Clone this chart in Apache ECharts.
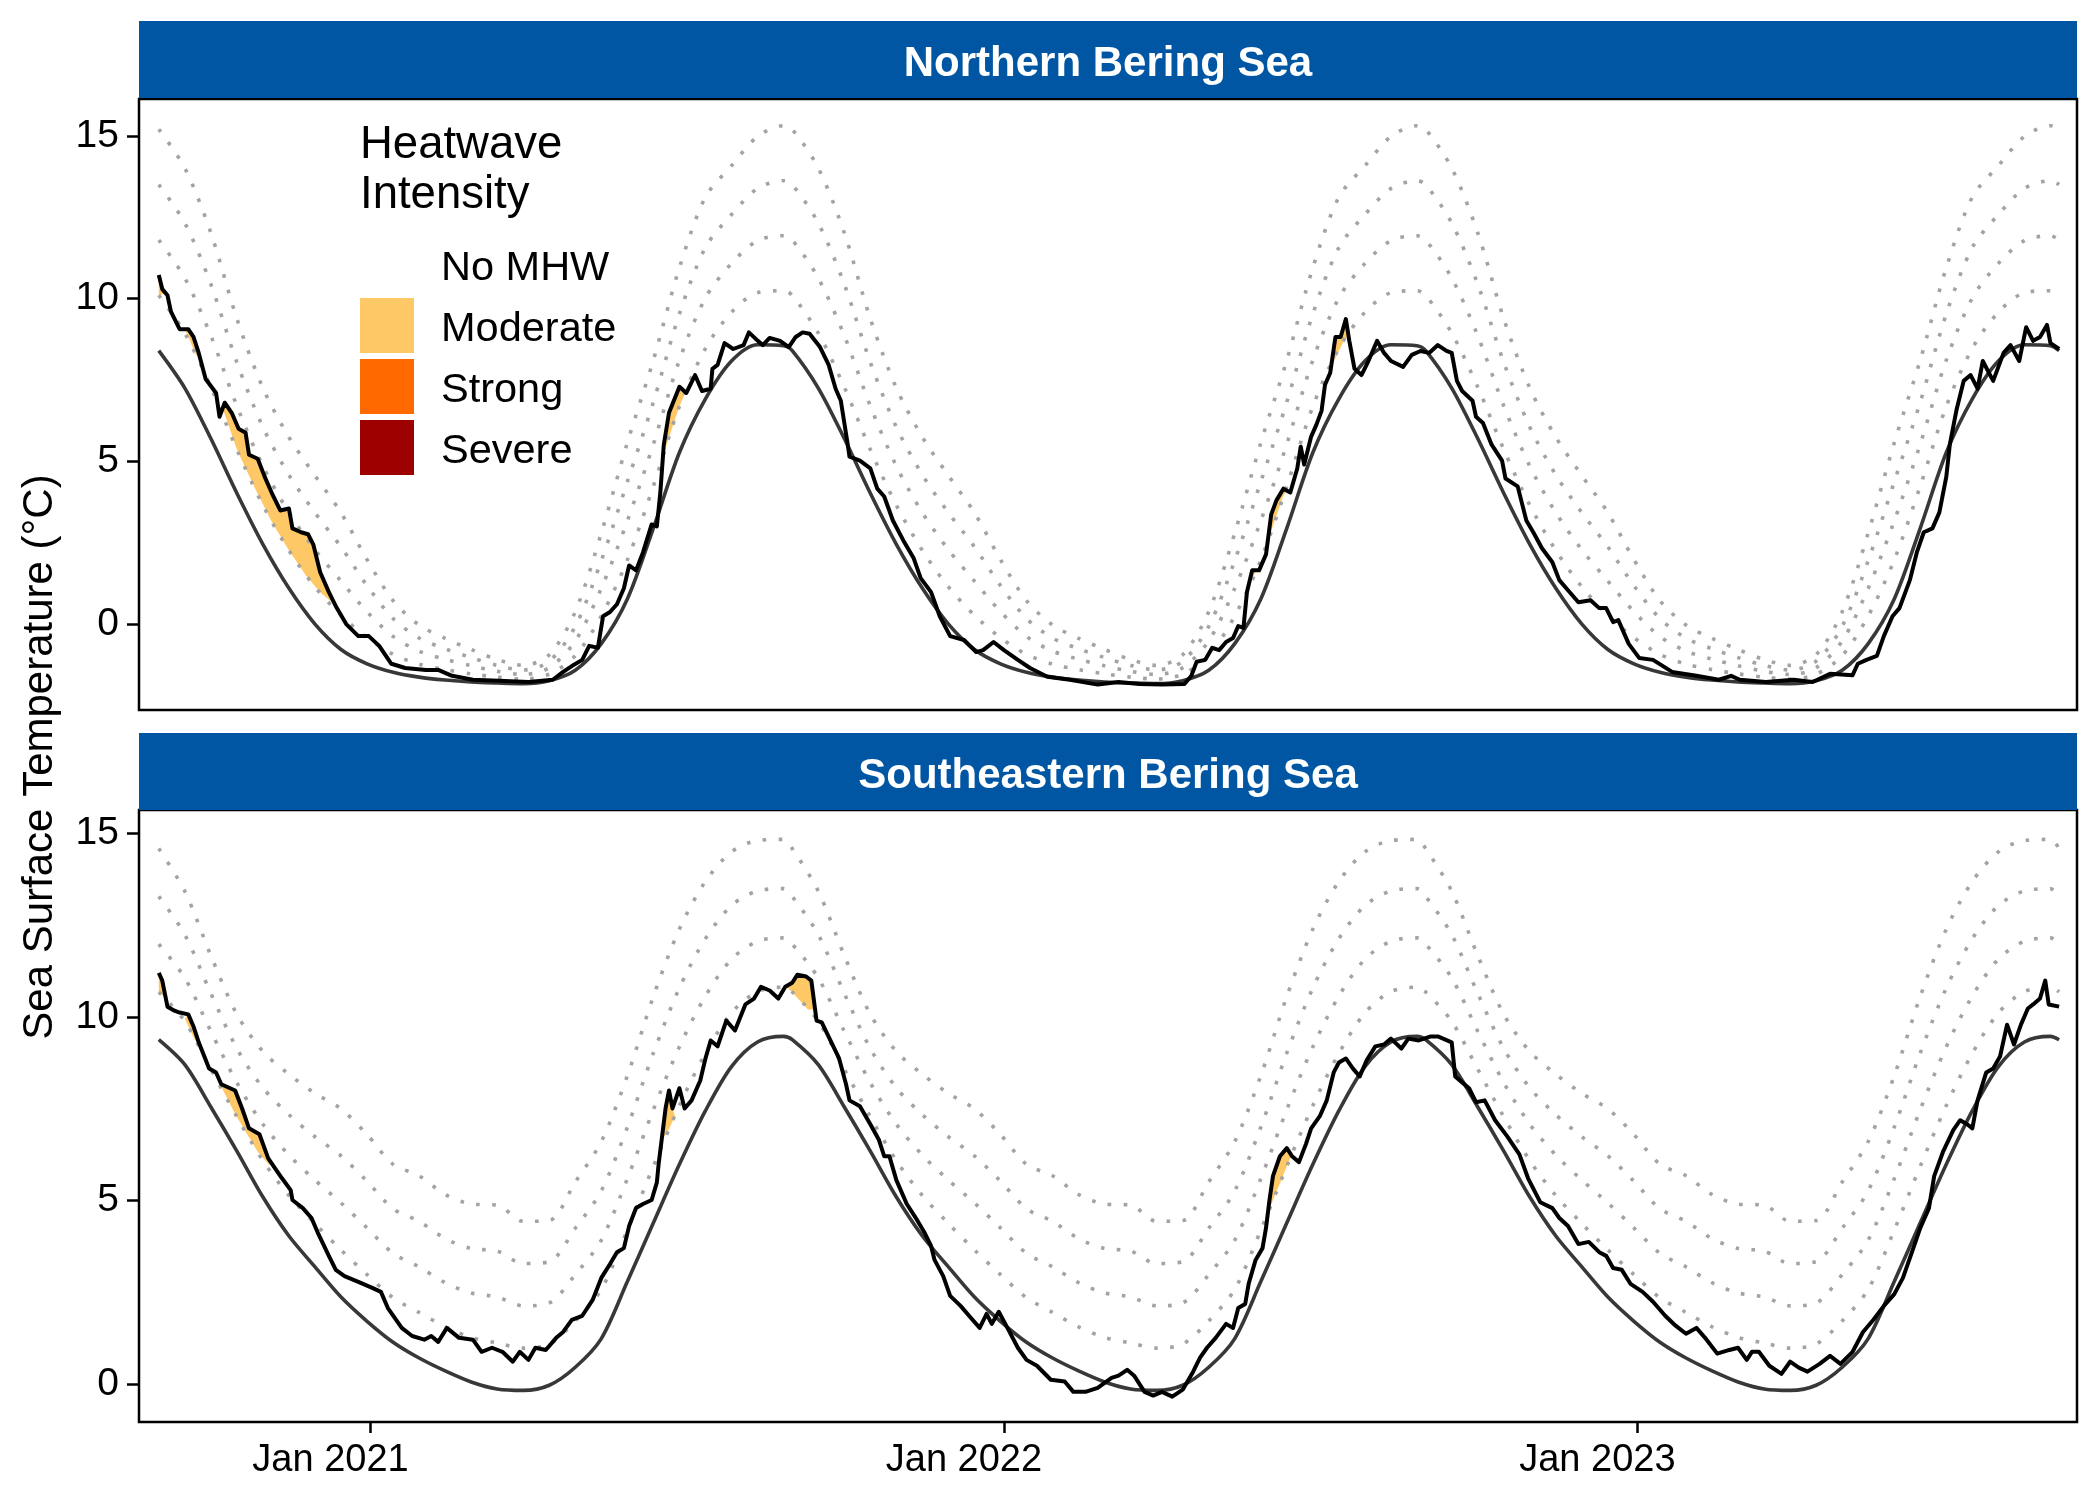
<!DOCTYPE html>
<html>
<head>
<meta charset="utf-8">
<title>Bering Sea marine heatwaves</title>
<script src="https://cdn.jsdelivr.net/npm/echarts@6/dist/echarts.min.js"></script>
<style>
  html, body { margin: 0; padding: 0; background: #fff; }
  #chart { width: 2100px; height: 1500px; }
</style>
</head>
<body>
<div id="chart"></div>
<script>
// all days are counted from 1 Sep 2020
const START = Date.UTC(2020, 8, 1);
const DAY = 86400000;

const panelTitles = ['Northern Bering Sea', 'Southeastern Bering Sea'];
const xTickDates = ['2021-01-01', '2022-01-01', '2023-01-01'];
const xTickLabels = ['Jan 2021', 'Jan 2022', 'Jan 2023'];
const yTicks = [0, 5, 10, 15];
const legendNames = ['No MHW', 'Moderate', 'Strong', 'Severe'];
const legendColors = ['#ffffff', '#ffc866', '#ff6900', '#9e0000'];

// seasonal climatology + threshold multiples, one value every 15 days from 1 Sep (same each year)
const cycleDay = [0, 15, 30, 45, 60, 75, 90, 105, 120, 135, 150, 165, 180, 195, 210, 225, 240, 255, 270, 285, 300, 315, 330, 345, 360];

const nbsClim  = [8.4, 7.25, 5.7, 4.02, 2.45, 1.1, 0.0, -0.78, -1.22, -1.48, -1.63, -1.72, -1.78, -1.81, -1.83, -1.74, -1.42, -0.6, 0.77, 2.95, 5.27, 6.92, 8.08, 8.58, 8.55];
const nbsLine1 = [10.1, 8.94, 7.28, 5.36, 3.65, 2.26, 1.14, 0.27, -0.42, -0.93, -1.23, -1.4, -1.53, -1.63, -1.69, -1.54, -0.97, 0.25, 1.97, 4.24, 6.69, 8.47, 9.58, 10.18, 10.24];
const nbsLine2 = [11.8, 10.63, 8.86, 6.7, 4.85, 3.42, 2.28, 1.32, 0.38, -0.38, -0.83, -1.08, -1.28, -1.45, -1.55, -1.34, -0.52, 1.1, 3.17, 5.53, 8.11, 10.02, 11.08, 11.78, 11.93];
const nbsLine3 = [13.5, 12.32, 10.44, 8.04, 6.05, 4.58, 3.42, 2.37, 1.18, 0.17, -0.43, -0.76, -1.03, -1.27, -1.41, -1.14, -0.07, 1.95, 4.37, 6.82, 9.53, 11.57, 12.58, 13.38, 13.62];
const nbsLine4 = [15.2, 14.01, 12.02, 9.38, 7.25, 5.74, 4.56, 3.42, 1.98, 0.72, -0.03, -0.44, -0.78, -1.09, -1.27, -0.94, 0.38, 2.8, 5.57, 8.11, 10.95, 13.12, 14.08, 14.98, 15.31];

const sebsClim  = [9.38, 8.7, 7.55, 6.35, 5.1, 4.04, 3.2, 2.38, 1.72, 1.15, 0.72, 0.37, 0.07, -0.12, -0.16, -0.02, 0.47, 1.25, 2.8, 4.4, 5.99, 7.45, 8.65, 9.32, 9.47];
const sebsLine1 = [10.68, 9.88, 8.58, 7.28, 6.09, 5.14, 4.38, 3.66, 2.99, 2.36, 1.96, 1.57, 1.28, 1.13, 0.99, 1.1, 1.73, 2.59, 4.2, 5.94, 7.59, 9.01, 10.11, 10.69, 10.81];
const sebsLine2 = [11.98, 11.06, 9.61, 8.21, 7.08, 6.24, 5.56, 4.94, 4.26, 3.57, 3.2, 2.77, 2.49, 2.38, 2.14, 2.22, 2.99, 3.93, 5.6, 7.48, 9.19, 10.57, 11.57, 12.06, 12.15];
const sebsLine3 = [13.28, 12.24, 10.64, 9.14, 8.07, 7.34, 6.74, 6.22, 5.53, 4.78, 4.44, 3.97, 3.7, 3.63, 3.29, 3.34, 4.25, 5.27, 7.0, 9.02, 10.79, 12.13, 13.03, 13.43, 13.49];
const sebsLine4 = [14.58, 13.42, 11.67, 10.07, 9.06, 8.44, 7.92, 7.5, 6.8, 5.99, 5.68, 5.17, 4.91, 4.88, 4.44, 4.46, 5.51, 6.61, 8.4, 10.56, 12.39, 13.69, 14.49, 14.8, 14.83];

// observed sea surface temperature
const nbsDay = [0, 2, 5, 7, 12, 17, 20, 23, 27, 33, 35, 38, 42, 46, 50, 52, 57, 61, 65, 70, 75, 77, 82, 86, 89, 93, 98, 102, 108, 115, 121, 127, 134, 142, 154, 161, 169, 181, 196, 213, 227, 233, 238, 244, 248, 253, 256, 260, 264, 268, 271, 275, 279, 284, 287, 289, 291, 294, 300, 304, 309, 313, 318, 319, 322, 326, 331, 337, 340, 344, 348, 352, 358, 363, 367, 371, 375, 381, 386, 390, 393, 397, 398, 404, 410, 414, 418, 423, 429, 435, 439, 445, 450, 456, 464, 471, 475, 481, 487, 495, 502, 512, 525, 541, 553, 565, 578, 591, 595, 598, 603, 607, 611, 615, 619, 622, 625, 627, 630, 634, 638, 641, 644, 648, 652, 656, 658, 660, 664, 667, 670, 672, 675, 678, 681, 684, 686, 689, 693, 697, 702, 706, 710, 717, 722, 727, 732, 737, 742, 745, 748, 751, 757, 759, 763, 768, 774, 776, 783, 788, 792, 797, 803, 807, 812, 818, 825, 830, 834, 838, 841, 847, 853, 861, 872, 886, 899, 906, 911, 926, 942, 953, 963, 976, 979, 984, 990, 994, 999, 1003, 1009, 1013, 1017, 1022, 1026, 1030, 1032, 1036, 1040, 1044, 1048, 1051, 1057, 1063, 1067, 1072, 1076, 1080, 1084, 1088, 1090, 1095];
const nbsSst = [10.72, 10.29, 10.1, 9.6, 9.06, 9.06, 8.82, 8.33, 7.53, 7.1, 6.37, 6.8, 6.49, 6.0, 5.88, 5.2, 5.08, 4.53, 4.04, 3.49, 3.55, 2.94, 2.82, 2.76, 2.45, 1.59, 0.98, 0.55, 0.0, -0.37, -0.37, -0.67, -1.22, -1.35, -1.41, -1.41, -1.59, -1.71, -1.74, -1.78, -1.71, -1.47, -1.29, -1.1, -0.67, -0.73, 0.24, 0.37, 0.61, 1.1, 1.8, 1.65, 2.2, 3.06, 3.0, 4.04, 5.51, 6.49, 7.29, 7.1, 7.65, 7.16, 7.23, 7.84, 7.96, 8.63, 8.45, 8.57, 8.96, 8.76, 8.57, 8.79, 8.7, 8.51, 8.82, 8.96, 8.92, 8.51, 7.96, 7.23, 6.86, 5.51, 5.14, 5.02, 4.78, 4.16, 3.92, 3.18, 2.57, 2.02, 1.41, 0.98, 0.24, -0.37, -0.49, -0.86, -0.8, -0.55, -0.8, -1.1, -1.35, -1.62, -1.71, -1.86, -1.78, -1.84, -1.86, -1.84, -1.59, -1.16, -1.1, -0.73, -0.8, -0.55, -0.43, -0.06, -0.12, 0.98, 1.65, 1.65, 2.14, 3.37, 3.8, 4.16, 4.04, 4.78, 5.45, 4.9, 5.76, 6.12, 6.55, 7.35, 7.72, 8.82, 8.82, 9.37, 8.7, 7.84, 7.65, 8.08, 8.7, 8.33, 8.08, 7.9, 8.27, 8.39, 8.33, 8.57, 8.39, 8.33, 7.47, 7.16, 6.86, 6.37, 6.18, 5.51, 5.02, 4.47, 4.23, 3.18, 2.82, 2.33, 1.9, 1.35, 1.04, 0.67, 0.73, 0.49, 0.49, 0.06, 0.12, -0.61, -1.04, -1.1, -1.47, -1.59, -1.71, -1.59, -1.71, -1.78, -1.71, -1.78, -1.53, -1.57, -1.22, -1.1, -0.98, -0.37, 0.24, 0.49, 1.35, 2.2, 2.82, 2.94, 3.43, 4.53, 5.51, 6.61, 7.47, 7.65, 7.23, 8.08, 7.47, 8.33, 8.57, 8.08, 9.12, 8.7, 8.82, 9.19, 8.63, 8.45];

const sebsDay = [0, 2, 5, 9, 12, 17, 20, 23, 29, 33, 36, 44, 48, 52, 58, 63, 67, 71, 76, 77, 83, 88, 92, 98, 102, 107, 115, 123, 128, 132, 140, 146, 153, 157, 161, 166, 173, 181, 186, 192, 198, 204, 208, 213, 217, 223, 229, 233, 238, 244, 250, 255, 260, 264, 268, 271, 275, 279, 284, 287, 288, 290, 292, 294, 296, 300, 303, 307, 312, 315, 318, 322, 327, 332, 338, 343, 347, 352, 357, 361, 365, 368, 373, 376, 379, 382, 387, 392, 396, 398, 404, 410, 415, 418, 421, 425, 431, 437, 441, 445, 447, 452, 456, 462, 468, 473, 477, 480, 484, 489, 495, 500, 506, 514, 522, 527, 534, 541, 549, 553, 558, 562, 568, 573, 578, 584, 590, 596, 600, 604, 609, 615, 619, 622, 626, 628, 632, 636, 638, 640, 642, 646, 650, 653, 657, 661, 664, 669, 673, 677, 680, 684, 688, 692, 696, 701, 706, 710, 716, 720, 726, 733, 737, 745, 747, 751, 755, 759, 764, 770, 777, 784, 789, 796, 803, 807, 812, 818, 824, 830, 834, 838, 843, 848, 855, 861, 868, 874, 880, 886, 891, 898, 905, 910, 915, 918, 922, 928, 935, 940, 945, 950, 957, 963, 969, 976, 982, 988, 994, 1000, 1005, 1011, 1015, 1020, 1023, 1028, 1034, 1038, 1042, 1045, 1048, 1053, 1057, 1061, 1065, 1069, 1073, 1077, 1080, 1084, 1087, 1089, 1095];
const sebsSst = [11.2, 10.99, 10.28, 10.17, 10.12, 10.07, 9.74, 9.31, 8.6, 8.49, 8.17, 8.0, 7.51, 6.97, 6.81, 6.16, 5.88, 5.61, 5.29, 5.02, 4.8, 4.53, 4.09, 3.5, 3.12, 2.95, 2.79, 2.63, 2.52, 2.08, 1.54, 1.32, 1.22, 1.32, 1.16, 1.54, 1.27, 1.22, 0.89, 1.0, 0.89, 0.62, 0.89, 0.67, 1.0, 0.94, 1.27, 1.43, 1.76, 1.87, 2.3, 2.9, 3.28, 3.6, 3.71, 4.31, 4.8, 4.91, 5.02, 5.5, 5.99, 6.75, 7.51, 8.0, 7.51, 8.06, 7.51, 7.73, 8.27, 8.87, 9.36, 9.2, 9.9, 9.63, 10.34, 10.5, 10.82, 10.72, 10.5, 10.82, 10.93, 11.15, 11.1, 10.99, 9.9, 9.85, 9.36, 8.87, 8.17, 7.73, 7.57, 7.08, 6.65, 6.21, 6.21, 5.56, 4.91, 4.47, 4.15, 3.77, 3.39, 2.95, 2.41, 2.14, 1.81, 1.54, 1.92, 1.65, 1.98, 1.54, 1.0, 0.67, 0.51, 0.13, 0.08, -0.2, -0.2, -0.09, 0.18, 0.24, 0.4, 0.24, -0.2, -0.3, -0.2, -0.33, -0.14, 0.35, 0.73, 1.0, 1.27, 1.65, 1.54, 2.08, 2.19, 2.74, 3.39, 3.71, 4.26, 5.02, 5.67, 6.21, 6.43, 6.21, 6.05, 6.54, 6.97, 7.3, 7.73, 8.49, 8.76, 8.87, 8.6, 8.38, 8.82, 9.2, 9.25, 9.41, 9.14, 9.41, 9.36, 9.47, 9.47, 9.31, 8.38, 8.22, 8.06, 7.68, 7.73, 7.19, 6.75, 6.26, 5.61, 4.96, 4.8, 4.53, 4.31, 3.82, 3.88, 3.6, 3.5, 3.17, 3.12, 2.74, 2.52, 2.25, 1.87, 1.6, 1.38, 1.54, 1.27, 0.84, 0.94, 1.0, 0.67, 0.89, 0.89, 0.51, 0.29, 0.62, 0.46, 0.35, 0.56, 0.78, 0.56, 0.89, 1.43, 1.76, 2.14, 2.46, 2.9, 3.71, 4.26, 4.8, 5.67, 6.32, 6.92, 7.19, 7.08, 6.97, 7.73, 8.49, 8.6, 8.93, 9.79, 9.25, 9.79, 10.23, 10.34, 10.5, 10.99, 10.34, 10.28];

// moderate heatwave events: days and the threshold under the shaded area
const nbsMhwDay = [[0, 3.5], [15, 18, 21, 24], [37, 45, 55, 65, 75, 85, 93, 101], [292, 296, 300, 303], [628, 632], [639, 644, 648, 650], [676.5, 680, 683, 685.5]];
const nbsMhwLow = [[10.1, 10.15], [9.06, 8.7, 8.3, 8.15], [6.6, 5.36, 4.22, 3.15, 2.26, 1.48, 0.98, 0.62], [5.4, 6.05, 6.69, 7.05], [1.2, 1.6], [2.57, 3.33, 3.94, 4.1], [8.0, 8.4, 8.7, 8.87]];
const sebsMhwDay = [[0, 3, 4.5], [15, 20, 24], [36, 44, 50, 57, 64], [290.5, 294, 297.5], [362, 366, 370, 374, 377.8], [639.3, 642, 646, 650, 652.5]];
const sebsMhwLow = [[10.68, 10.55, 10.4], [9.95, 9.45, 9.15], [8.1, 7.36, 6.88, 6.33, 5.95], [6.7, 6.95, 7.3], [10.81, 10.62, 10.41, 10.2, 10.2], [4.72, 5.01, 5.47, 5.94, 6.22]];

const FONT = 'Liberation Sans, Arial, sans-serif';

function pairs(days, vals) {
  return days.map((d, i) => [d, vals[i]]);
}
// the seasonal arrays are laid out over each of the three years shown
function cycle(vals) {
  const out = [];
  for (let y = 0; y < 3; y++) {
    cycleDay.forEach((d, i) => out.push([y * 365 + d, vals[i]]));
  }
  out.push([1095, vals[0]]);
  return out;
}

function panelSeries(idx, clim, lines, day, sst, evDay, evLow) {
  const list = [];
  list.push({
    name: 'Moderate', type: 'custom', xAxisIndex: idx, yAxisIndex: idx, z: 1,
    itemStyle: { color: legendColors[1] },
    data: evDay.map((d, i) => [d[0], evLow[i][0]]),
    renderItem: function (params, api) {
      const i = params.dataIndex;
      const ed = evDay[i], el = evLow[i];
      const d0 = ed[0], d1 = ed[ed.length - 1];
      const pts = [];
      day.forEach((d, k) => {
        if (d >= d0 && d <= d1) pts.push(api.coord([d, sst[k]]));
      });
      for (let k = ed.length - 1; k >= 0; k--) pts.push(api.coord([ed[k], el[k]]));
      return { type: 'polygon', shape: { points: pts }, style: { fill: legendColors[1] } };
    }
  });
  lines.forEach((vals, k) => {
    list.push({
      name: 'thresh' + (k + 1), type: 'line', xAxisIndex: idx, yAxisIndex: idx, z: 2,
      data: cycle(vals), showSymbol: false, smooth: 0.3, silent: true,
      lineStyle: { color: '#a3a3a3', width: 3.6, type: [3.6, 12.4], cap: 'butt' }
    });
  });
  list.push({
    name: 'clim', type: 'line', xAxisIndex: idx, yAxisIndex: idx, z: 3,
    data: cycle(clim), showSymbol: false, smooth: 0.3, silent: true,
    lineStyle: { color: '#383838', width: 3.6 }
  });
  list.push({
    name: 'sst', type: 'line', xAxisIndex: idx, yAxisIndex: idx, z: 4,
    data: pairs(day, sst), showSymbol: false, silent: true,
    lineStyle: { color: '#000000', width: 4, join: 'round' }
  });
  return list;
}

const grids = [
  { left: 139, top: 99, width: 1938, height: 611 },
  { left: 139, top: 810, width: 1938, height: 612 }
];
const yRanges = [[-2.64, 16.13], [-1.02, 15.63]];
const xMin = -11.4, xMax = 1105.3;
const xTickDays = xTickDates.map(s => Math.round((Date.parse(s + 'T00:00:00Z') - START) / DAY));

const chart = echarts.init(document.getElementById('chart'), null, { renderer: 'canvas' });

const series = [].concat(
  panelSeries(0, nbsClim, [nbsLine1, nbsLine2, nbsLine3, nbsLine4], nbsDay, nbsSst, nbsMhwDay, nbsMhwLow),
  panelSeries(1, sebsClim, [sebsLine1, sebsLine2, sebsLine3, sebsLine4], sebsDay, sebsSst, sebsMhwDay, sebsMhwLow)
);
// legend-only entries
[0, 2, 3].forEach(i => {
  series.push({ name: legendNames[i], type: 'custom', xAxisIndex: 0, yAxisIndex: 0, data: [],
    itemStyle: { color: legendColors[i] }, renderItem: () => null });
});

const option = {
  backgroundColor: '#ffffff',
  animation: false,
  grid: grids.map(g => Object.assign({ show: true, borderColor: '#000', borderWidth: 2.5, backgroundColor: '#fff' }, g)),
  xAxis: grids.map((g, i) => ({
    type: 'value', gridIndex: i, min: xMin, max: xMax,
    axisLine: { show: false, onZero: false },
    splitLine: { show: false },
    axisTick: { show: i === 1, length: 11, lineStyle: { color: '#000', width: 2.5 }, customValues: xTickDays },
    axisLabel: {
      show: i === 1, customValues: xTickDays, margin: 20,
      fontSize: 38, color: '#000', fontFamily: FONT, padding: [0, 80, 0, 0],
      formatter: v => xTickLabels[xTickDays.indexOf(Math.round(v))] || ''
    }
  })),
  yAxis: grids.map((g, i) => ({
    type: 'value', gridIndex: i, min: yRanges[i][0], max: yRanges[i][1],
    axisLine: { show: false, onZero: false },
    splitLine: { show: false },
    axisTick: { show: true, length: 12, lineStyle: { color: '#000', width: 2.5 }, customValues: yTicks },
    axisLabel: { customValues: yTicks, margin: 20, fontSize: 39, color: '#000', fontFamily: FONT }
  })),
  legend: {
    left: 360, top: 237, padding: 0, orient: 'vertical',
    itemWidth: 54, itemHeight: 55, itemGap: 6, icon: 'rect', selectedMode: false,
    data: legendNames.map((n, i) => ({ name: n, itemStyle: { color: legendColors[i] } })),
    formatter: name => '{t|' + name + '}',
    textStyle: {
      fontSize: 41.5, color: '#000', fontFamily: FONT,
      rich: { t: { fontSize: 41.5, color: '#000', fontFamily: FONT, padding: [8, 0, 0, 22] } }
    }
  },
  graphic: [
    { type: 'rect', shape: { x: 139, y: 21, width: 1938, height: 77 }, style: { fill: '#0156a4' }, silent: true },
    { type: 'rect', shape: { x: 139, y: 733, width: 1938, height: 77 }, style: { fill: '#0156a4' }, silent: true },
    { type: 'text', x: 1108, y: 64, silent: true,
      style: { text: panelTitles[0], fill: '#fff', font: 'bold 42px ' + FONT, align: 'center', verticalAlign: 'middle', textAlign: 'center', textVerticalAlign: 'middle' } },
    { type: 'text', x: 1108, y: 776, silent: true,
      style: { text: panelTitles[1], fill: '#fff', font: 'bold 42px ' + FONT, align: 'center', verticalAlign: 'middle', textAlign: 'center', textVerticalAlign: 'middle' } },
    { type: 'text', x: 40, y: 757, rotation: Math.PI / 2, silent: true,
      style: { text: 'Sea Surface Temperature (°C)', fill: '#000', font: '42px ' + FONT, align: 'center', verticalAlign: 'middle', textAlign: 'center', textVerticalAlign: 'middle' } },
    { type: 'text', x: 360, y: 120, silent: true,
      style: { text: 'Heatwave\nIntensity', fill: '#000', font: '45.5px ' + FONT, lineHeight: 50, align: 'left', verticalAlign: 'top', textAlign: 'left', textVerticalAlign: 'top' } }
  ],
  series: series
};

chart.setOption(option);
</script>
</body>
</html>
